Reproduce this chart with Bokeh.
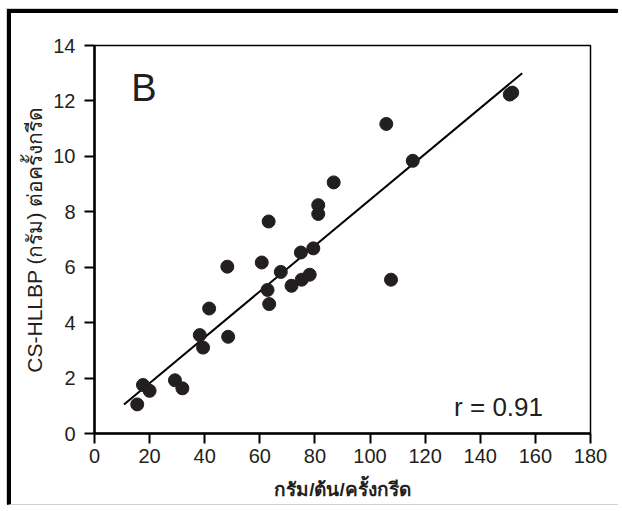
from bokeh.plotting import figure
from bokeh.models import Range1d, FixedTicker, Label
from bokeh.embed import file_html
from bokeh.resources import INLINE

# data
x_vals = [15.5, 17.6, 20.0, 29.2, 31.9, 38.2, 39.4, 41.6, 48.5, 48.2, 60.7, 62.8, 63.4,
          67.6, 71.5, 74.9, 75.2, 78.1, 79.4, 63.2, 81.2, 81.2, 86.8, 105.9, 115.5,
          107.6, 150.7, 151.6]
y_vals = [1.05, 1.75, 1.54, 1.92, 1.63, 3.55, 3.10, 4.51, 3.49, 6.02, 6.17, 5.18, 4.67,
          5.83, 5.33, 6.53, 5.55, 5.73, 6.68, 7.65, 8.24, 7.92, 9.06, 11.17, 9.84,
          5.55, 12.23, 12.30]
fit_x = [10.7, 155.2]
fit_slope = 0.0827
fit_intercept = 0.165
fit_y = [fit_slope * v + fit_intercept for v in fit_x]
x_ticks = [0, 20, 40, 60, 80, 100, 120, 140, 160, 180]
y_ticks = [0, 2, 4, 6, 8, 10, 12, 14]
x_title = "กรัม/ต้น/ครั้งกรีด"
y_title = "CS-HLLBP (กรัม) ต่อครั้งกรีด"
panel_letter = "B"
r_text = "r = 0.91"

FONT = "Liberation Sans"
INK = "#231f20"

p = figure(width=611, height=496, x_range=Range1d(0, 180), y_range=Range1d(0, 14),
           output_backend="svg", toolbar_location=None,
           min_border_left=83, min_border_right=32, min_border_top=32, min_border_bottom=76)
p.styles = {"border-top": "4px solid black", "border-left": "4px solid black",
            "border-bottom": "1px solid #cfcfcf",
            "box-shadow": "-1px -1px 0 #cfcfcf",
            "margin-top": "9px", "margin-left": "7px"}
p.background_fill_color = "white"
p.border_fill_color = "white"
p.outline_line_color = "black"
p.outline_line_width = 1.5
p.xgrid.visible = False
p.ygrid.visible = False

for ax, ticks in ((p.xaxis[0], x_ticks), (p.yaxis[0], y_ticks)):
    ax.ticker = FixedTicker(ticks=ticks)
    ax.minor_tick_line_color = None
    ax.major_tick_in = 0
    ax.major_tick_out = 10
    ax.major_tick_line_width = 2
    ax.axis_line_width = 2.5
    ax.axis_line_color = "black"
    ax.major_label_text_font = FONT
    ax.major_label_text_font_size = "20px"
    ax.major_label_text_color = INK
    ax.axis_label_text_font = FONT
    ax.axis_label_text_font_style = "normal"
    ax.axis_label_text_color = INK

p.xaxis.major_label_standoff = 5
p.yaxis.major_label_standoff = 9
p.xaxis.axis_label = x_title
p.xaxis.axis_label_text_font_size = "19px"
p.xaxis.axis_label_text_font_style = "bold"
p.xaxis.axis_label_standoff = 13
p.yaxis.axis_label = y_title
p.yaxis.axis_label_text_font_size = "21px"
p.yaxis.axis_label_standoff = 4

p.line(fit_x, fit_y, line_color="black", line_width=2)
p.scatter(x_vals, y_vals, size=13, fill_color=INK, line_color=INK)

p.add_layout(Label(x=13.3, y=12.45, text=panel_letter, text_font=FONT, text_font_size="38px",
                   text_color=INK, text_baseline="alphabetic"))
p.add_layout(Label(x=130.5, y=0.95, text=r_text, text_font=FONT, text_font_size="26px",
                   text_color=INK, text_baseline="alphabetic"))

open("out.html", "w").write(file_html(p, INLINE))
